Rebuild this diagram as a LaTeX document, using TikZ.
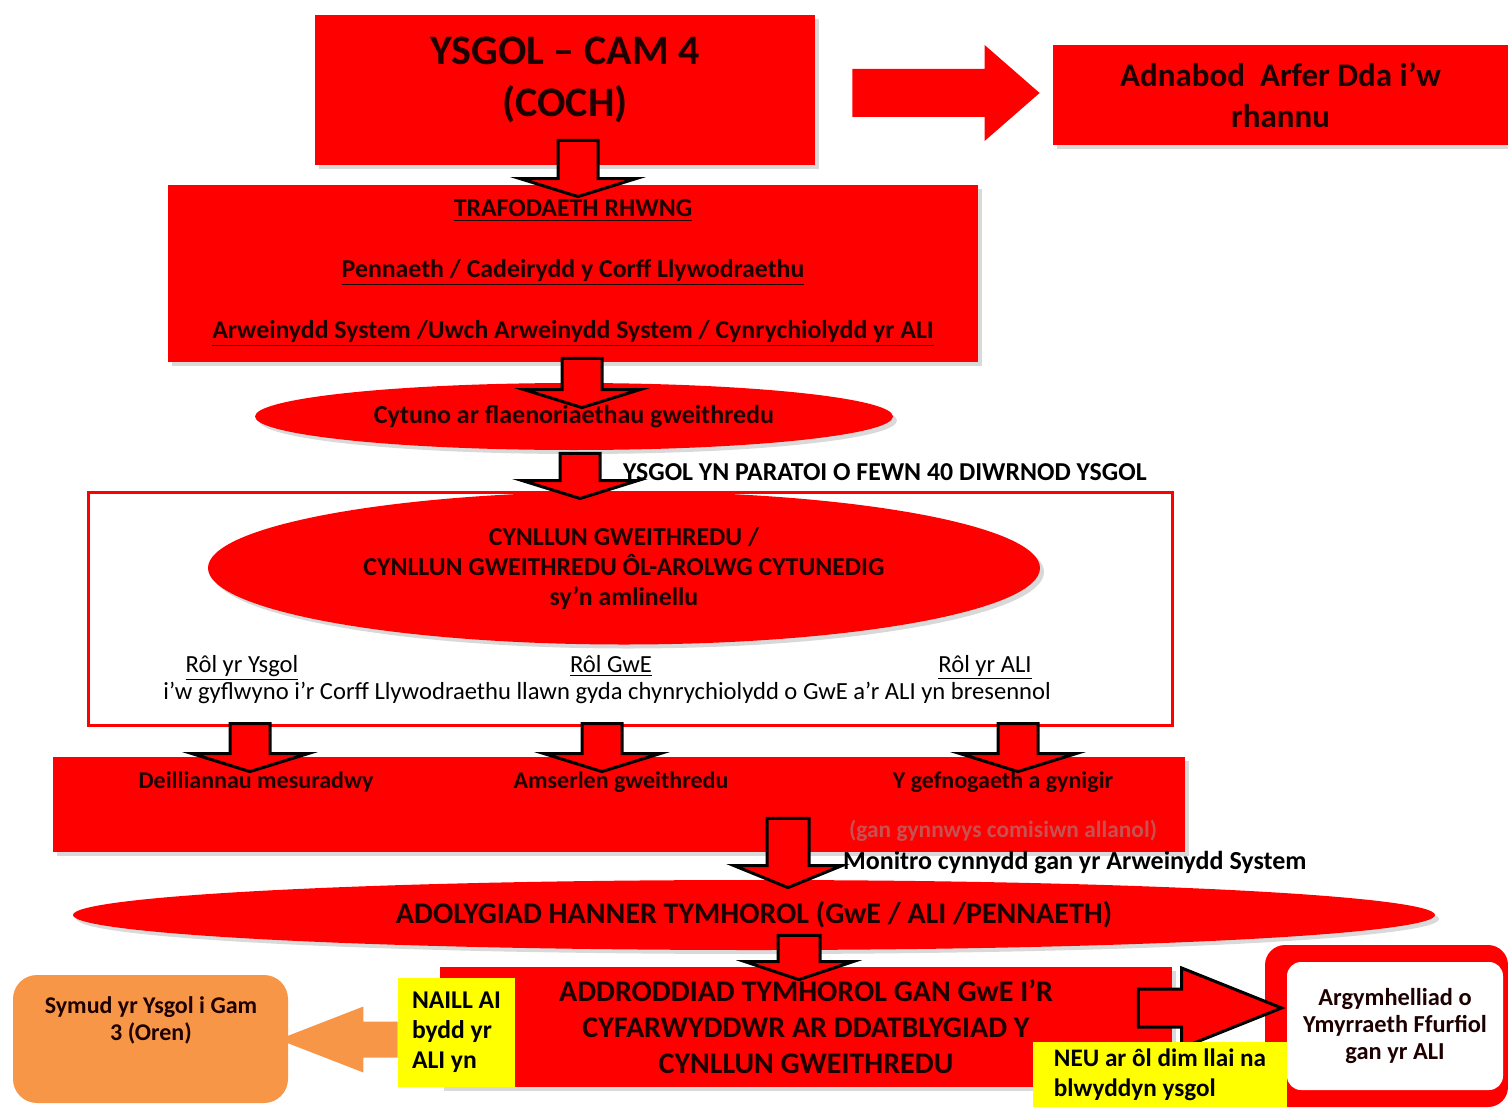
\documentclass[tikz,border=0pt]{standalone}
\usepackage{fontspec}
\setmainfont{Carlito}
\usepackage{tikz}
\usetikzlibrary{positioning, calc, shadows, shapes.geometric}
\usepackage{xcolor}

\definecolor{coch}{RGB}{255,0,0}
\definecolor{oren}{RGB}{247,150,70}
\definecolor{melyn}{RGB}{255,255,0}
\definecolor{inc}{RGB}{30,0,0}
\definecolor{golau}{RGB}{200,80,80}

% block arrow: [style]{start}{tip}{shaft half}{head half}{head length}
\newcommand{\blockarrow}[6][]{%
  \coordinate (hb) at ($(#3)!#6!(#2)$);
  \draw[#1] ($(#2)!#4!90:(#3)$) -- ($(hb)!#4!90:(#3)$) -- ($(hb)!#5!90:(#3)$) -- (#3)
    -- ($(hb)!#5!-90:(#3)$) -- ($(hb)!#4!-90:(#3)$) -- ($(#2)!#4!-90:(#3)$) -- cycle;}

\begin{document}
\begin{tikzpicture}[x=0.5pt, y=-0.5pt,
    fs/.style 2 args={font=\bfseries\fontsize{#1}{#2}\selectfont},
    redbox/.style={rectangle, fill=coch, text=inc, align=center, inner sep=0pt,
      drop shadow={shadow xshift=2pt, shadow yshift=-2pt, opacity=0.3}},
    redoval/.style={ellipse, fill=coch, text=inc, align=center, inner sep=0pt,
      drop shadow={shadow xshift=2pt, shadow yshift=-2pt, opacity=0.3}},
    plain/.style={text=black, font=\fontsize{12.3}{15}\selectfont},
    yellowbox/.style={fill=melyn, text=black, align=left, inner sep=0pt},
    downarr/.style={fill=coch, draw=black, line width=1.5pt, line join=miter},
    flatarr/.style={fill=#1, draw=none}]
    \useasboundingbox (0,0) rectangle (1508,1107);

    % Cam 4
    \node[redbox, minimum width=250pt, minimum height=75pt, text depth=13pt, fs={21}{26}] (cam) at (565,90) {YSGOL – CAM 4\\(COCH)};
    \node[redbox, minimum width=227.5pt, minimum height=50pt, fs={16.5}{20.5}] (rhannu) at (1280.5,95) {Adnabod\ \ Arfer Dda i’w\\rhannu};
    \coordinate (r1s) at ($(cam.east)+(37,3)$);
    \coordinate (r1e) at ($(r1s -| rhannu.west)+(-13,0)$);
    \blockarrow[flatarr=coch]{r1s}{r1e}{12pt}{24pt}{27.5pt}

    % Trafodaeth
    \node[redbox, minimum width=405pt, minimum height=88.5pt, text depth=4pt, fs={12.9}{30.5}] (trafod) at (573,273.5)
      {\underline{TRAFODAETH RHWNG}\\\underline{Pennaeth / Cadeirydd y Corff Llywodraethu}\\\underline{Arweinydd System /Uwch Arweinydd System / Cynrychiolydd yr ALI}};
    \node[redoval, minimum width=319pt, minimum height=33.5pt, fs={13}{15}] (cytuno) at (574,416.5) {Cytuno ar flaenoriaethau gweithredu};
    \node[anchor=west, text=black, fs={12.9}{15}] (paratoi) at (616,472) {YSGOL YN PARATOI O FEWN 40 DIWRNOD YSGOL};

    % Cynllun
    \node[draw=coch, line width=1.5pt, fill=white, minimum width=542pt, minimum height=116.5pt, inner sep=0pt] (ffram) at (630,608.5) {};
    \node[redoval, minimum width=416pt, minimum height=76.5pt, fs={12.9}{15}] (cynllun) at (624,568)
      {CYNLLUN GWEITHREDU /\\CYNLLUN GWEITHREDU ÔL-AROLWG CYTUNEDIG\\sy’n amlinellu};
    \node[plain, anchor=base] (rol1) at (242,672) {\underline{Rôl yr Ysgol}};
    \node[plain, anchor=base] (rol2) at (611,672) {\underline{Rôl GwE}};
    \node[plain, anchor=base] (rol3) at (985,672) {\underline{Rôl yr ALI}};
    \node[plain, anchor=base] (cyflwyno) at (607,699) {i’w gyflwyno i’r Corff Llywodraethu llawn gyda chynrychiolydd o GwE a’r ALI yn bresennol};

    % Canlyniadau
    \node[redbox, minimum width=566pt, minimum height=47.5pt] (canlyn) at (619,804.5) {};
    \node[text=inc, fs={12}{14}] (deill) at (256,782) {Deilliannau mesuradwy};
    \node[text=inc, fs={12}{14}] (amser) at (621,782) {Amserlen gweithredu};
    \node[text=inc, fs={12}{14}] (cefnog) at (1003,782) {Y gefnogaeth a gynigir};
    \node[text=golau, fs={11.7}{14}] (comisiwn) at (1003,831) {(gan gynnwys comisiwn allanol)};
    \node[anchor=west, text=black, fs={13}{15}] (monitro) at (836,863) {Monitro cynnydd gan yr Arweinydd System};

    % Adolygiad
    \node[redoval, minimum width=681pt, minimum height=35pt, fs={15}{17}] (adolyg) at (754,915) {ADOLYGIAD HANNER TYMHOROL (GwE / ALI /PENNAETH)};
    \node[redbox, minimum width=366pt, minimum height=60pt, fs={15}{18}] (adrodd) at (806,1027)
      {ADDRODDIAD TYMHOROL GAN GwE I’R\\CYFARWYDDWR AR DDATBLYGIAD Y\\CYNLLUN GWEITHREDU};

    % Oren
    \node[fill=oren, rounded corners=12pt, minimum width=137.5pt, minimum height=64pt] (oren) at (150.5,1039) {};
    \node[text=inc, fs={12}{13.5}, align=center] (orentxt) at (151,1020) {Symud yr Ysgol i Gam\\3 (Oren)};

    % Ymyrraeth
    \node[fill=coch, rounded corners=10pt, minimum width=121.5pt, minimum height=81pt] (allan) at (1386.5,1026) {};
    \node[fill=white, rounded corners=7pt, minimum width=108pt, minimum height=64pt, text=inc, fs={12.2}{13.5}, align=center] (argym) at (1395,1026)
      {Argymhelliad o\\Ymyrraeth Ffurfiol\\gan yr ALI};

    % Arrows
    \coordinate (a1s) at ($(cam.south)+(13,-25)$);
    \coordinate (a1e) at ($(a1s |- trafod.north)+(0,12)$);
    \coordinate (a2s) at ($(trafod.south)+(9,-4)$);
    \coordinate (a2e) at ($(a2s |- cytuno.north)+(0,25)$);
    \coordinate (a3s) at ($(cytuno.south)+(6,3)$);
    \coordinate (a3e) at ($(a3s |- ffram.north)+(0,8)$);
    \coordinate (a4s) at ($(ffram.south -| rol1)+(8,-3)$);
    \coordinate (a5s) at ($(ffram.south -| rol2)+(-9,-3)$);
    \coordinate (a6s) at ($(ffram.south -| rol3)+(33,-3)$);
    \coordinate (a7s) at ($(canlyn.south)+(169,-34)$);
    \coordinate (a7e) at ($(a7s |- adolyg.north)+(0,8)$);
    \coordinate (a8s) at ($(adolyg.south)+(45,-15)$);
    \coordinate (a8e) at ($(a8s |- adrodd.north)+(0,13)$);
    \blockarrow[downarr]{a1s}{a1e}{10pt}{29pt}{9pt}
    \blockarrow[downarr]{a2s}{a2e}{10pt}{29pt}{9pt}
    \blockarrow[downarr]{a3s}{a3e}{10pt}{29pt}{9pt}
    \foreach \i in {4,5,6} {
      \coordinate (a\i e) at ($(a\i s |- canlyn.north)+(0,15)$);
      \blockarrow[downarr]{a\i s}{a\i e}{10pt}{29pt}{9pt}
    }
    \blockarrow[downarr]{a7s}{a7e}{10.5pt}{27pt}{11pt}
    \blockarrow[downarr]{a8s}{a8e}{10.5pt}{27pt}{9pt}

    \node[yellowbox, minimum width=58.5pt, minimum height=54.5pt, fs={12.8}{15}] (naill) at (456.5,1032.5) {NAILL AI\\bydd yr\\ALI yn};
    \coordinate (os) at ($(naill.west)+(0,7)$);
    \coordinate (oe) at ($(os -| oren.east)+(-10,0)$);
    \blockarrow[flatarr=oren]{os}{oe}{9pt}{16.5pt}{42.5pt}

    \coordinate (rs) at ($(adrodd.east)+(-34,-19)$);
    \coordinate (re) at ($(rs -| argym.west)+(-5,0)$);
    \blockarrow[downarr]{rs}{re}{9.5pt}{20pt}{50pt}
    \node[yellowbox, minimum width=127pt, minimum height=32.5pt, fs={12.6}{15}] (neu) at (1160,1074.5) {NEU ar ôl dim llai na\\blwyddyn ysgol};
\end{tikzpicture}
\end{document}
